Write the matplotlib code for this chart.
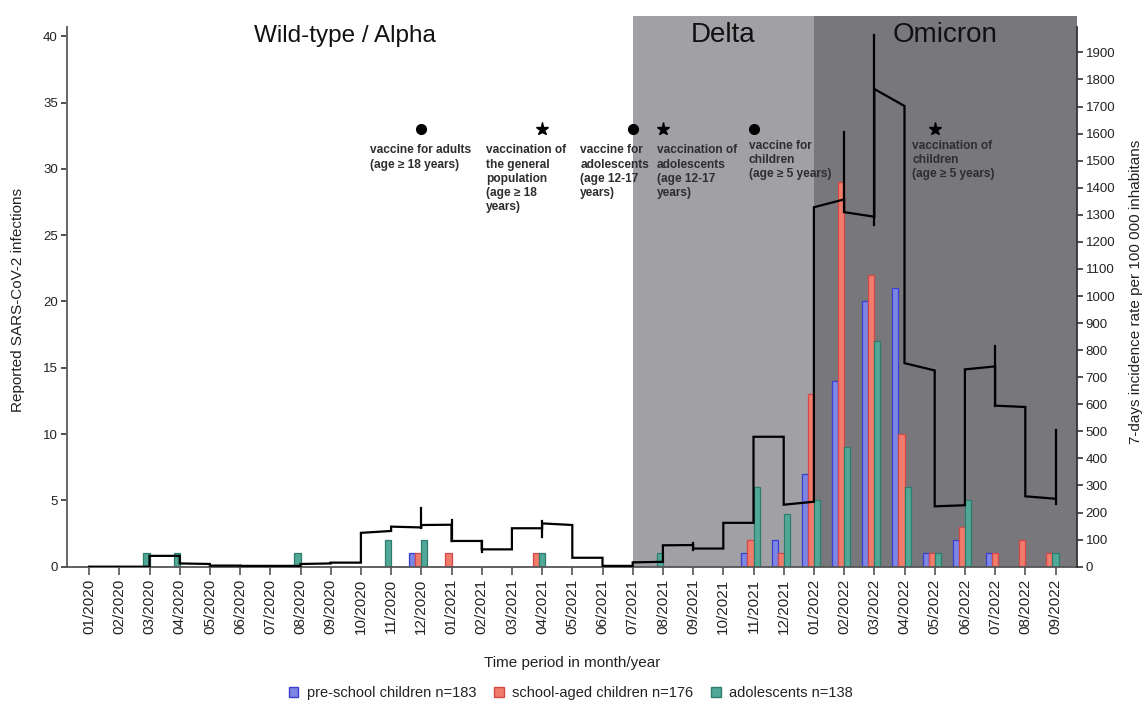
import matplotlib
matplotlib.use('Agg')
import matplotlib.pyplot as plt
from matplotlib.patches import Rectangle, Patch
import matplotlib.transforms as mtransforms
import numpy as np

plt.rcParams['font.family'] = ['Liberation Sans', 'DejaVu Sans']

# ---------------- data ----------------
months = ['01/2020', '02/2020', '03/2020', '04/2020', '05/2020', '06/2020', '07/2020',
          '08/2020', '09/2020', '10/2020', '11/2020', '12/2020', '01/2021', '02/2021',
          '03/2021', '04/2021', '05/2021', '06/2021', '07/2021', '08/2021', '09/2021',
          '10/2021', '11/2021', '12/2021', '01/2022', '02/2022', '03/2022', '04/2022',
          '05/2022', '06/2022', '07/2022', '08/2022', '09/2022']

preschool = [0, 0, 0, 0, 0, 0, 0, 0, 0, 0, 0, 1, 0, 0, 0, 0, 0, 0, 0, 0, 0, 0,
             1, 2, 7, 14, 20, 21, 1, 2, 1, 0, 0]
school = [0, 0, 0, 0, 0, 0, 0, 0, 0, 0, 0, 1, 1, 0, 0, 1, 0, 0, 0, 0, 0, 0,
          2, 1, 13, 29, 22, 10, 1, 3, 1, 2, 1]
adolescents = [0, 0, 1, 1, 0, 0, 0, 1, 0, 0, 2, 2, 0, 0, 0, 1, 0, 0, 0, 1, 0, 0,
               6, 4, 5, 9, 17, 6, 1, 5, 0, 0, 1]

series_labels = ['pre-school children n=183', 'school-aged children n=176', 'adolescents n=138']

# 7-day incidence: value at start and end of each monthly segment (month i -> month i+1)
inc_start = [0, 0, 40, 12, 4, 3, 3, 10, 15, 125, 148, 154, 95, 64, 142, 160, 33, 3,
             16, 79, 67, 162, 480, 229, 1328, 1310, 1765, 752, 223, 729, 595, 260]
inc_end = [0, 0, 40, 10, 4, 3, 3, 12, 15, 132, 145, 155, 95, 64, 142, 154, 33, 3,
           18, 80, 67, 162, 480, 240, 1357, 1293, 1702, 725, 227, 740, 590, 251]
# short vertical peaks at month boundaries
spike_month = [11, 12, 13, 15, 20, 25, 26, 30, 32]
spike_lo = [144, 95, 55, 109, 62, 1310, 1262, 595, 231]
spike_hi = [216, 172, 95, 169, 86, 1607, 1964, 815, 505]

variants = ['Wild-type / Alpha', 'Delta', 'Omicron']
delta_start, omicron_start = 18, 24

vacc_month = [11, 15, 18, 19, 22, 28]
vacc_marker = ['o', '*', 'o', '*', 'o', '*']
vacc_text = ['vaccine for adults\n(age \u2265 18 years)',
             'vaccination of\nthe general\npopulation\n(age \u2265 18\nyears)',
             'vaccine for\nadolescents\n(age 12-17\nyears)',
             'vaccination of\nadolescents\n(age 12-17\nyears)',
             'vaccine for\nchildren\n(age \u2265 5 years)',
             'vaccination of\nchildren\n(age \u2265 5 years)']

# ---------------- layout / style ----------------
fill_cols = ['#7d86e3', '#f07c6c', '#52a898']
edge_cols = ['#3a3fd0', '#d24848', '#2d7d6d']
delta_col = '#a1a0a5'
omicron_col = '#78777c'
xmin, xmax = -0.74, 32.7
text_left = [9.31, 13.15, 16.26, 18.80, 21.84, 27.25]
text_top = [31.85, 31.85, 31.85, 31.85, 32.2, 32.2]
variant_x = [8.48, 21.0, 28.34]
variant_size = [17.5, 20, 20]

fig = plt.figure(figsize=(11.45, 7.01), dpi=100)
ax = fig.add_axes([0.0583, 0.1916, 0.9403 - 0.0583, 0.9615 - 0.1916])
ax2 = ax.twinx()

x = np.arange(len(months))
ax.set_xlim(xmin, xmax)
ax.set_ylim(0, 40.7)
ax2.set_ylim(0, 1994)

# background shading for variants (extends a bit above the axes)
trans = mtransforms.blended_transform_factory(ax.transData, ax.transAxes)
ax.add_patch(Rectangle((delta_start, 0), omicron_start - delta_start, 1.0204,
                       transform=trans, facecolor=delta_col, edgecolor='none',
                       clip_on=False, zorder=0))
ax.add_patch(Rectangle((omicron_start, 0), xmax - omicron_start, 1.0204,
                       transform=trans, facecolor=omicron_col, edgecolor='none',
                       clip_on=False, zorder=0))

# grouped bars: only non-zero series form the group, centred slightly left of the tick
w = 0.2
data = [preschool, school, adolescents]
for i in range(len(months)):
    present = [k for k in range(3) if data[k][i] > 0]
    n = len(present)
    for j, k in enumerate(present):
        pos = x[i] - 0.1 + (j - (n - 1) / 2) * w
        ax.bar(pos, data[k][i], width=w, color=fill_cols[k], edgecolor=edge_cols[k],
               linewidth=0.9, zorder=2)

# incidence line (right axis)
lx, ly = [], []
for i in range(len(inc_start)):
    lx += [x[i], x[i + 1]]
    ly += [inc_start[i], inc_end[i]]
ax2.plot(lx, ly, color='black', lw=1.6, zorder=3, solid_joinstyle='miter')
for m, lo, hi in zip(spike_month, spike_lo, spike_hi):
    ax2.plot([x[m], x[m]], [lo, hi], color='black', lw=1.6, zorder=3)

# vaccination markers + texts
for m, mk, txt, tl, tt in zip(vacc_month, vacc_marker, vacc_text, text_left, text_top):
    ax.plot(x[m], 33, marker=mk, color='black', markersize=7 if mk == 'o' else 9.5,
            zorder=4, clip_on=False)
    ax.text(tl, tt, txt, ha='left', va='top', fontsize=8.6, fontweight='bold',
            color='#2e2e2e', linespacing=1.25, zorder=4)

# variant labels
for name, vx, fs in zip(variants, variant_x, variant_size):
    ax.text(vx, 0.9713, name, transform=trans, ha='center', va='baseline',
            fontsize=fs, color='#111111', zorder=4)

# axes styling
ax.set_xticks(x)
ax.set_xticklabels(months, rotation=90, fontsize=11, color='#222222')
ax.set_yticks(np.arange(0, 41, 5))
ax.tick_params(axis='y', labelsize=9.5, colors='#222222', length=4, width=1.1, pad=2.5)
ax.tick_params(axis='x', length=5.5, width=1.1, pad=3.5, color='#444444')
ax2.set_yticks(np.arange(0, 1901, 100))
ax2.tick_params(axis='y', labelsize=9.5, colors='#222222', length=4, width=1.1, pad=2.5)

for a in (ax, ax2):
    a.spines['top'].set_visible(False)
    a.patch.set_visible(False)
ax.spines['left'].set_color('#666666')
ax.spines['left'].set_linewidth(1.4)
ax.spines['bottom'].set_color('#555555')
ax.spines['bottom'].set_linewidth(1.3)
ax.spines['right'].set_visible(False)
ax2.spines['left'].set_visible(False)
ax2.spines['bottom'].set_visible(False)
ax2.spines['right'].set_color('#333333')
ax2.spines['right'].set_linewidth(1.3)

fig.text(0.0157, 0.572, 'Reported SARS-CoV-2 infections', rotation=90,
         ha='center', va='center', fontsize=11, color='#222222')
fig.text(0.9925, 0.583, '7-days incidence rate per 100 000 inhabitans', rotation=90,
         ha='center', va='center', fontsize=11, color='#222222')
fig.text(0.4995, 0.054, 'Time period in month/year', ha='center', va='center',
         fontsize=11, color='#222222')

handles = [Patch(facecolor=fill_cols[k], edgecolor=edge_cols[k], linewidth=1.0)
           for k in range(3)]
fig.legend(handles, series_labels, loc='center', bbox_to_anchor=(0.4987, 0.0114),
           ncol=3, frameon=False, fontsize=10.5, handlelength=0.65, handleheight=0.65,
           handletextpad=0.6, columnspacing=1.2, labelcolor='#222222')

fig.savefig('out.png', dpi=100)
